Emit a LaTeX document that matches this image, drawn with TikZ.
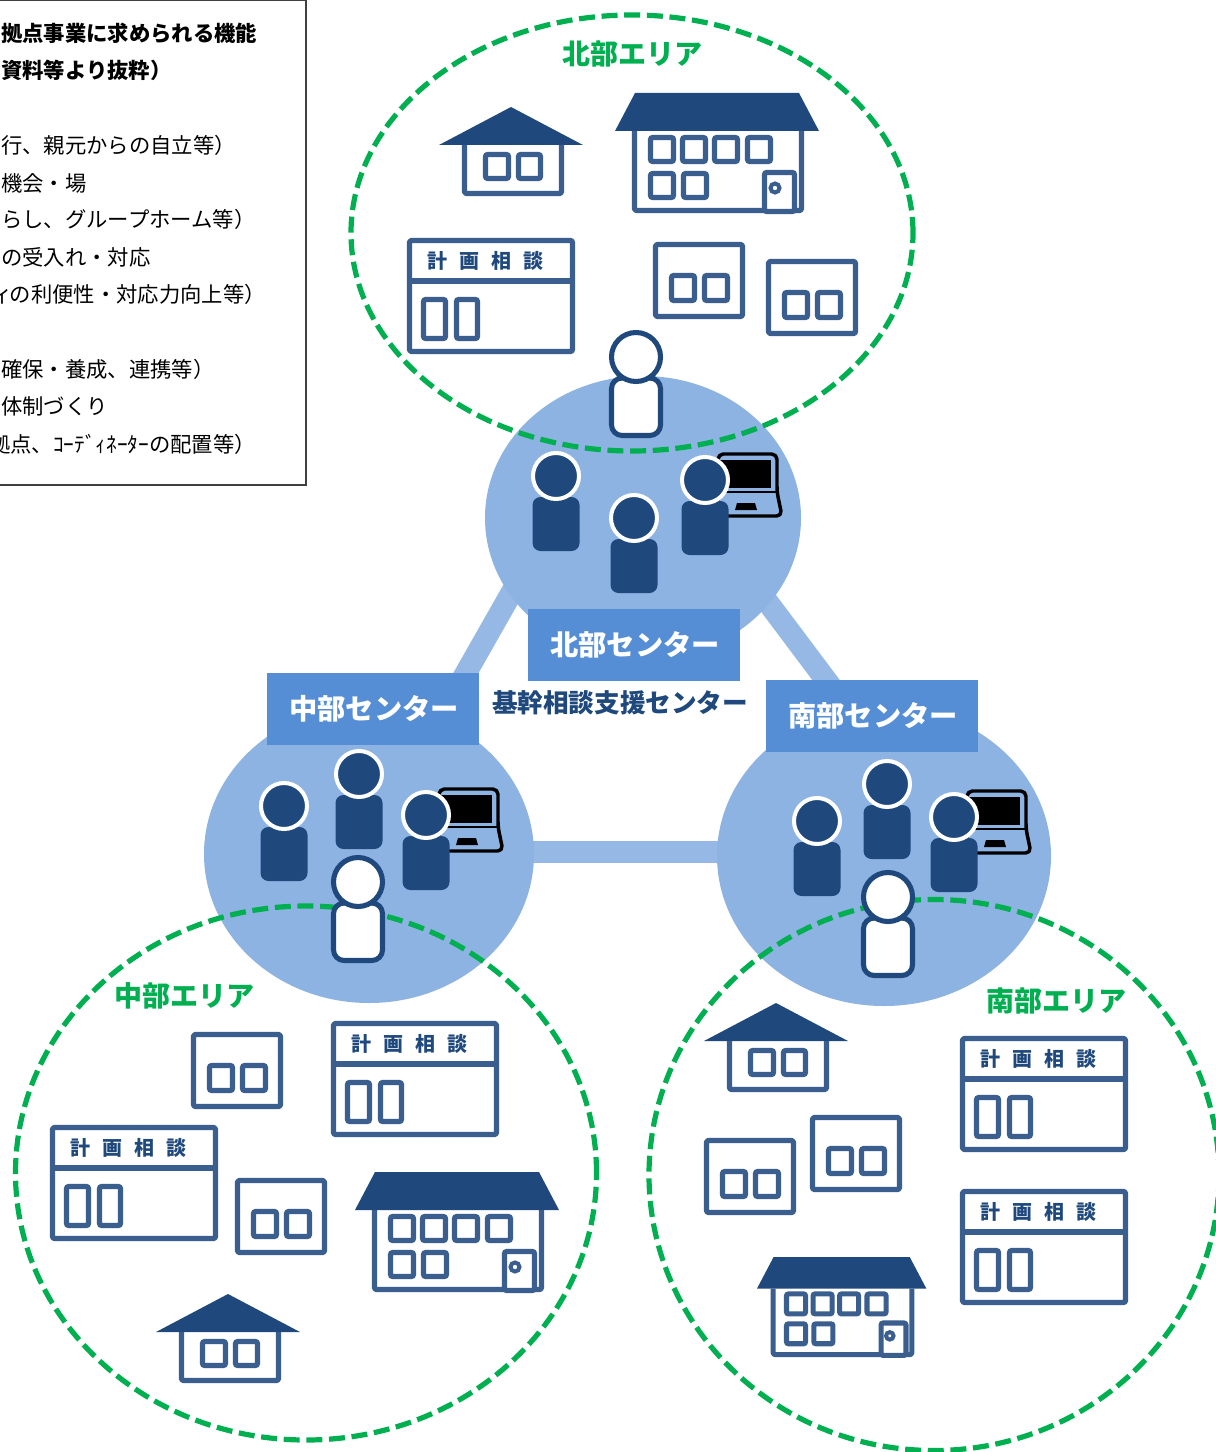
\documentclass[tikz,border=0pt]{standalone}
\usepackage{fontspec}
\setmainfont{Noto Sans CJK JP}
\usetikzlibrary{shapes.geometric}
\definecolor{hubblue}{HTML}{8DB3E2}
\definecolor{barblue}{HTML}{95B8E4}
\definecolor{labelblue}{HTML}{558ED5}
\definecolor{navy}{HTML}{1F497D}
\definecolor{iconblue}{HTML}{3A5F8F}
\definecolor{areagreen}{HTML}{00B050}
\definecolor{boxgrey}{HTML}{404040}
\newcommand{\pxfont}[1]{\fontsize{#1}{#1}\selectfont}
\tikzset{
  x=0.75pt,y=-0.75pt,
  hub/.style={ellipse,fill=hubblue,inner sep=0pt},
  bar/.style={draw=barblue,line width=16.5pt},
  areaedge/.style={draw=areagreen,line width=3.9pt,dash pattern=on 12pt off 5pt},
  centerlabel/.style={fill=labelblue,text=white,font=\pxfont{21.2}\bfseries,minimum width=159pt,minimum height=54pt,inner sep=0pt},
  arealabel/.style={text=areagreen,font=\pxfont{21}\bfseries,inner sep=0pt},
  legendline/.style={anchor=west,inner sep=0pt,font=\pxfont{16}},
  legendhead/.style={anchor=west,inner sep=0pt,font=\pxfont{16}\bfseries},
  icon/.style={draw=iconblue,line width=3.8pt,line join=round,rounded corners=1pt},
  iconwin/.style={draw=iconblue,line width=3.8pt,rounded corners=1.5pt,fill=white},
  roof/.style={fill=navy},
  homeicon/.pic={
    \fill[roof] (0,0) -- (72,38) -- (-72,38) -- cycle;
    \draw[icon] (-46.5,38) -- (-46.5,86.5) -- (50.5,86.5) -- (50.5,38);
    \draw[iconwin] (-25.5,47.5) rectangle (-2.5,71.5);
    \draw[iconwin] (7.5,47.5) rectangle (29.5,71.5);
  },
  bigicon/.pic={
    \fill[roof] (20,0) -- (184,0) -- (204,38) -- (0,38) -- cycle;
    \draw[icon] (19.5,38) -- (19.5,117.5) -- (186.5,117.5) -- (186.5,38);
    \foreach \wx in {35.5,67.5,99.5,132.5} \draw[iconwin] (\wx,44.5) rectangle ++(23,24);
    \foreach \wx in {35.5,68.5} \draw[iconwin] (\wx,80.5) rectangle ++(23,24);
    \draw[iconwin] (149.5,79.5) rectangle (179.5,118.5);
    \draw[draw=iconblue,line width=3pt] (160,95) circle[radius=4.5];
  },
  consulticon/.pic={
    \draw[icon,fill=white] (2.5,2.5) rectangle (165.5,113.5);
    \draw[icon,rounded corners=0pt] (2.5,43) -- (165.5,43);
    \draw[iconwin] (16.5,61.5) rectangle (38.5,100.5);
    \draw[iconwin] (49.5,61.5) rectangle (70.5,100.5);
    \node[text=navy,font=\pxfont{15}\bfseries,inner sep=0pt] (-title) at (78.5,23) {計\kern9pt画\kern9pt相\kern9pt談};
  },
  officeicon/.pic={
    \draw[icon,fill=white] (2.5,2.5) rectangle (89.5,74.5);
    \draw[iconwin] (18.5,33.5) rectangle (41.5,58.5);
    \draw[iconwin] (51.5,33.5) rectangle (74.5,58.5);
  },
  darkperson/.pic={
    \fill[navy,rounded corners=6pt] (-23.5,21) rectangle (23.5,75);
    \draw[draw=white,fill=navy,line width=3pt] (0,0) circle[radius=23];
  },
  whiteperson/.pic={
    \draw[draw=navy,fill=white,line width=3.8pt,rounded corners=8pt] (-24.5,21) rectangle (24.5,78.5);
    \draw[draw=navy,fill=white,line width=3.8pt] (0,0) circle[radius=24.5];
  },
  laptopicon/.pic={
    \draw[draw=black,line width=2.6pt,fill=hubblue,rounded corners=4pt,line join=round]
      (13,36) -- (13,-26) -- (72,-26) -- (72,12) -- (77,36) -- cycle;
    \fill[black] (13,-20.5) rectangle (66,8);
    \draw[black,line width=1.8pt] (13,12) -- (72,12);
    \fill[black] (32,23) -- (50,23) -- (52,30) -- (30,30) -- cycle;
  },
}
\begin{document}
\begin{tikzpicture}
\clip (0,0) rectangle (1216,1452);
\useasboundingbox (0,0) rectangle (1216,1452);
\fill[white] (0,0) rectangle (1216,1452);

% free ends of the thick links
\coordinate (barNMtop) at (554,518);
\coordinate (barNMend) at (425,745);
\coordinate (barNStop) at (706,520);
\coordinate (barNSend) at (886,760);
\coordinate (barMSa) at (450,852);
\coordinate (barMSb) at (800,852);

\draw[bar] (barNMtop) -- (barNMend);
\draw[bar] (barNStop) -- (barNSend);
\draw[bar] (barMSa) -- (barMSb);

% centres
\node[hub,minimum width=237pt,minimum height=213pt] (hubN) at (643,518) {};
\node[hub,minimum width=247.5pt,minimum height=223.5pt] (hubM) at (369,854) {};
\node[hub,minimum width=250.5pt,minimum height=225pt] (hubS) at (884,856) {};

% legend
\draw[draw=boxgrey,line width=1pt,fill=white] (-6,0.5) rectangle (306,485);
\node[legendhead] (lg1) at (1,33) {拠点事業に求められる機能};
\node[legendhead] (lg2) at (1,70) {資料等より抜粋）};
\node[legendline] (lg3) at (1,145) {行、親元からの自立等）};
\node[legendline] (lg4) at (1,183) {機会・場};
\node[legendline] (lg5) at (1,219) {らし、グループホーム等）};
\node[legendline] (lg6) at (1,257) {の受入れ・対応};
\node[legendline] (lg7) at (-9,294) {ィ\kern-2pt の利便性・対応力向上等）};
\node[legendline] (lg8) at (1,369) {確保・養成、連携等）};
\node[legendline] (lg9) at (1,406) {体制づくり};
\node[legendline] (lg10) at (-11,444) {拠点、ｺｰﾃﾞｨﾈｰﾀｰの配置等）};

% north area icons
\pic (nHome) at (511,107) {homeicon};
\pic (nBig) at (615,93) {bigicon};
\pic (nCons) at (407,238) {consulticon};
\pic (nOff1) at (653,242) {officeicon};
\pic (nOff2) at (766,259) {officeicon};

% middle area icons
\pic (mOff1) at (191,1032) {officeicon};
\pic (mOff2) at (235,1178) {officeicon};
\pic (mCons1) at (331,1021) {consulticon};
\pic (mCons2) at (50,1125) {consulticon};
\pic (mBig) at (355,1172) {bigicon};
\pic (mHome) at (228,1294) {homeicon};

% south area icons
\pic (sHome) at (776,1003) {homeicon};
\pic (sOff1) at (810,1115) {officeicon};
\pic (sOff2) at (704,1138) {officeicon};
\pic (sCons1) at (960,1036) {consulticon};
\pic (sCons2) at (960,1189) {consulticon};
\pic[scale=0.83] (sBig) at (757,1257) {bigicon};

% area outlines
\node[ellipse,areaedge,inner sep=0pt,minimum width=421.5pt,minimum height=327pt] (areaN) at (632,233) {};
\node[ellipse,areaedge,inner sep=0pt,minimum width=435.75pt,minimum height=400.5pt] (areaM) at (306,1173) {};
\node[ellipse,areaedge,inner sep=0pt,minimum width=427.5pt,minimum height=413.25pt] (areaS) at (934,1175) {};

% people
\pic (nLap) at (705,480) {laptopicon};
\pic (mLap) at (426,815) {laptopicon};
\pic (sLap) at (954,817) {laptopicon};
\pic (nP1) at (556,476) {darkperson};
\pic (nP2) at (634,518) {darkperson};
\pic (nP3) at (705,480) {darkperson};
\pic (mP1) at (284,806) {darkperson};
\pic (mP2) at (359,774) {darkperson};
\pic (mP3) at (426,815) {darkperson};
\pic (sP1) at (817,821) {darkperson};
\pic (sP2) at (887,784) {darkperson};
\pic (sP3) at (954,817) {darkperson};
\pic (nW) at (636,357) {whiteperson};
\pic (mW) at (358,882) {whiteperson};
\pic (sW) at (888,897) {whiteperson};

% labels
\node[centerlabel] (lblN) at (634,645) {\kern1.5pt 北部センター};
\node[centerlabel] (lblM) at (373,709) {\kern1.5pt 中部センター};
\node[centerlabel] (lblS) at (872,716) {\kern1.5pt 南部センター};
\node[text=navy,font=\pxfont{19.2}\bfseries,inner sep=0pt] (lblBase) at (620,703) {基幹相談支援センター};
\node[arealabel] (txtN) at (632,54) {北部エリア};
\node[arealabel] (txtM) at (184,996) {中部エリア};
\node[arealabel] (txtS) at (1056,1001) {南部エリア};
\end{tikzpicture}
\end{document}
